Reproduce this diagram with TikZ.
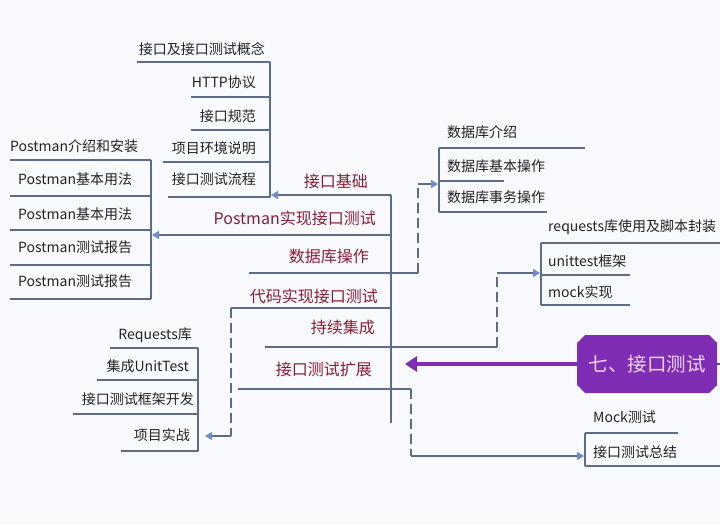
\documentclass[tikz,border=0pt]{standalone}
\usepackage{fontspec}
\setmainfont{Noto Sans CJK SC}
\usetikzlibrary{arrows.meta}
\definecolor{bg}{HTML}{F9FAFE}
\definecolor{ln}{HTML}{5E6C8A}
\definecolor{ab}{HTML}{6F8CCF}
\definecolor{mainred}{HTML}{8A1D35}
\definecolor{subtxt}{HTML}{222222}
\definecolor{purp}{HTML}{7E2DB4}
\definecolor{purptxt}{HTML}{F3D6F2}
\tikzset{
  tree/.style={draw=ln,line width=1.1pt},
  dashlink/.style={draw=ln,line width=1.1pt,dash pattern=on 10pt off 5pt},
  linkarrow/.style={draw=ln,line width=1.1pt,-{Triangle[width=8pt,length=7pt,color=ab]}},
  subl/.style={inner sep=0pt,anchor=east,font=\fontsize{14}{16}\selectfont,text=subtxt},
  subr/.style={inner sep=0pt,anchor=west,font=\fontsize{14}{16}\selectfont,text=subtxt},
  mainbr/.style={inner sep=0pt,anchor=east,font=\fontsize{16}{18}\selectfont,text=mainred},
  centre/.style={rectangle,text=purptxt,minimum width=140pt,minimum height=58pt,inner sep=0pt,
    font=\fontsize{19.5}{22}\selectfont}
}
\begin{document}
\begin{tikzpicture}[x=1pt,y=-1pt]
\useasboundingbox[fill=bg] (0,0) rectangle (720,525);

% ---------- central node ----------
\fill[purp] (585,335) -- (709,335) -- (717,343) -- (717,385) -- (709,393)
  -- (585,393) -- (577,385) -- (577,343) -- cycle;
\node[centre] (root) at (647,364) {七、接口测试};
\draw[purp,line width=1.5pt] (root.east) -- (720,364);

% ---------- trunk ----------
\coordinate (trTop) at (391,195);
\coordinate (trBot) at (391,423);
\draw[tree] (trTop) -- (trBot);
\coordinate (rootTip) at (405,364);
\draw[purp,line width=3.5pt,-{Triangle[width=15pt,length=12pt]}] (root.west) -- (rootTip);

% ---------- main branch labels ----------
\node[mainbr] (b1) at (368,181) {接口基础};
\node[mainbr] (b2) at (376,218) {Postman实现接口测试};
\node[mainbr] (b3) at (369,256) {数据库操作};
\node[mainbr] (b4) at (378,296) {代码实现接口测试};
\node[mainbr] (b5) at (375,327) {持续集成};
\node[mainbr] (b6) at (372,369) {接口测试扩展};

% ---------- group A : 接口基础 ----------
\coordinate (vAtop) at (270,62);
\coordinate (vAbot) at (270,197);
\draw[tree] (vAtop) -- (vAbot);
\node[subl] (a1) at (265,49) {接口及接口测试概念};
\node[subl] (a2) at (256,82) {HTTP协议};
\node[subl] (a3) at (256,116) {接口规范};
\node[subl] (a4) at (256,148) {项目环境说明};
\node[subl] (a5) at (256,179) {接口测试流程};
\draw[tree] (137,62) -- (vAtop);
\draw[tree] (191,97) -- (270,97);
\draw[tree] (191,130) -- (270,130);
\draw[tree] (163,162) -- (270,162);
\draw[tree] (168,197) -- (vAbot);
\coordinate (aIn) at (271,195);
\draw[linkarrow] (trTop) -- (aIn);

% ---------- group B : Postman ----------
\coordinate (vBtop) at (151,160);
\coordinate (vBbot) at (151,299);
\draw[tree] (vBtop) -- (vBbot);
\node[subr] (p1) at (10,146) {Postman介绍和安装};
\node[subr] (p2) at (18,179) {Postman基本用法};
\node[subr] (p3) at (18,214) {Postman基本用法};
\node[subr] (p4) at (18,247) {Postman测试报告};
\node[subr] (p5) at (18,281) {Postman测试报告};
\draw[tree] (10,160) -- (vBtop);
\draw[tree] (10,196) -- (151,196);
\draw[tree] (10,230) -- (151,230);
\draw[tree] (10,265) -- (151,265);
\draw[tree] (10,299) -- (vBbot);
\coordinate (b2r) at (391,235);
\coordinate (bIn) at (152,235);
\draw[linkarrow] (b2r) -- (bIn);

% ---------- group C : 数据库 ----------
\coordinate (vCtop) at (439,148);
\coordinate (vCbot) at (439,212);
\draw[tree] (vCtop) -- (vCbot);
\node[subr] (d1) at (447,132) {数据库介绍};
\node[subr] (d2) at (447,166) {数据库基本操作};
\node[subr] (d3) at (447,197) {数据库事务操作};
\draw[tree] (vCtop) -- (585,148);
\draw[tree] (439,181) -- (504,181);
\draw[tree] (vCbot) -- (547,212);
\coordinate (c0) at (249,273);
\coordinate (c1) at (418,273);
\coordinate (c2) at (418,184);
\coordinate (cIn) at (438,184);
\draw[tree] (c0) -- (c1);
\draw[dashlink] (c1) -- (c2);
\draw[linkarrow] (c2) -- (cIn);

% ---------- group D : 代码实现 ----------
\coordinate (vDtop) at (198,348);
\coordinate (vDbot) at (198,451);
\draw[tree] (vDtop) -- (vDbot);
\node[subl] (r1) at (192,335) {Requests库};
\node[subl] (r2) at (189,366) {集成UnitTest};
\node[subl] (r3) at (194,399) {接口测试框架开发};
\node[subl] (r4) at (190,435) {项目实战};
\draw[tree] (110,348) -- (vDtop);
\draw[tree] (97,380) -- (198,380);
\draw[tree] (73,414) -- (198,414);
\draw[tree] (121,451) -- (vDbot);
\coordinate (d0) at (391,308);
\coordinate (d1c) at (231,308);
\coordinate (d2c) at (231,436);
\coordinate (dIn) at (205,436);
\draw[tree] (d0) -- (d1c);
\draw[dashlink] (d1c) -- (d2c);
\draw[linkarrow] (d2c) -- (dIn);

% ---------- group E : requests ----------
\coordinate (vEtop) at (541,243);
\coordinate (vEbot) at (541,305);
\draw[tree] (vEtop) -- (vEbot);
\node[subr] (e1) at (548,227) {requests库使用及脚本封装};
\node[subr] (e2) at (548,261) {unittest框架};
\node[subr] (e3) at (548,292) {mock实现};
\draw[tree] (vEtop) -- (720,243);
\draw[tree] (541,275) -- (630,275);
\draw[tree] (vEbot) -- (630,305);
\coordinate (e0) at (265,347);
\coordinate (e1c) at (497,347);
\coordinate (e2c) at (497,273);
\coordinate (eIn) at (540,273);
\draw[tree] (e0) -- (e1c);
\draw[dashlink] (e1c) -- (e2c);
\draw[linkarrow] (e2c) -- (eIn);

% ---------- group F : Mock ----------
\coordinate (vFtop) at (585,433);
\coordinate (vFbot) at (585,466);
\draw[tree] (vFtop) -- (vFbot);
\node[subr] (m1) at (593,417) {Mock测试};
\node[subr] (m2) at (593,452) {接口测试总结};
\draw[tree] (vFtop) -- (678,433);
\draw[tree] (vFbot) -- (720,466);
\coordinate (f0) at (238,389);
\coordinate (f1) at (411,389);
\coordinate (f2) at (411,456);
\coordinate (fIn) at (584,456);
\draw[tree] (f0) -- (f1);
\draw[dashlink] (f1) -- (f2);
\draw[linkarrow] (f2) -- (fIn);
\end{tikzpicture}
\end{document}
